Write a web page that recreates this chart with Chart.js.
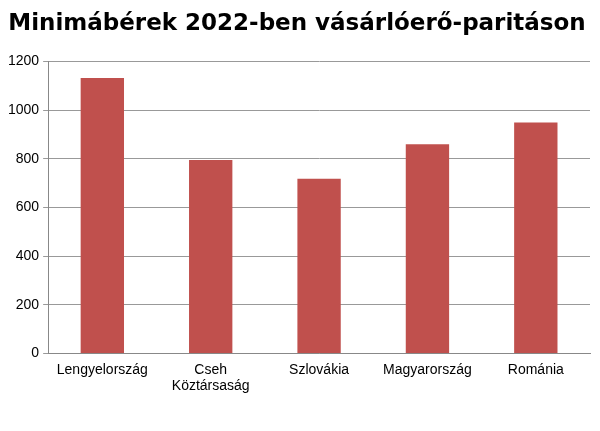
<!DOCTYPE html>
<html><head><meta charset="utf-8">
<script src="https://cdn.jsdelivr.net/npm/chart.js@4"></script>
<style>body{margin:0;background:#fff}#w{width:600px;height:431px}</style>
</head><body><div id="w"><canvas id="c"></canvas></div>
<script>
const categories = ["Lengyelország", ["Cseh", "Köztársaság"], "Szlovákia", "Magyarország", "Románia"];
const values = [1133, 795, 718, 860, 950];
const yTicks = [0, 200, 400, 600, 800, 1000, 1200];
new Chart(document.getElementById('c'), {
  type: 'bar',
  data: { labels: categories, datasets: [{ data: values, backgroundColor: '#C0504D', barPercentage: 0.4, categoryPercentage: 1 }] },
  options: {
    responsive: true, maintainAspectRatio: false, animation: false,
    layout: { padding: { left: 4, right: 10, top: 0, bottom: 28 } },
    plugins: {
      legend: { display: false },
      title: { display: true, text: 'Minimábérek 2022-ben vásárlóerő-paritáson', color: '#000',
        font: { family: 'DejaVu Sans', size: 23, weight: 'bold' }, padding: { top: 10, bottom: 24 } }
    },
    scales: {
      x: { grid: { display: false, drawTicks: false }, border: { color: '#888' },
        ticks: { color: '#000', font: { family: 'Liberation Sans', size: 14 }, padding: 8, maxRotation: 0 } },
      y: { min: 0, max: 1200, afterBuildTicks: a => { a.ticks = yTicks.map(v => ({ value: v })); },
        grid: { color: '#999', drawTicks: true, tickLength: 5 }, border: { color: '#888' },
        ticks: { color: '#000', font: { family: 'Liberation Sans', size: 14 }, padding: 4, callback: v => String(v) } }
    }
  }
});
</script></body></html>
